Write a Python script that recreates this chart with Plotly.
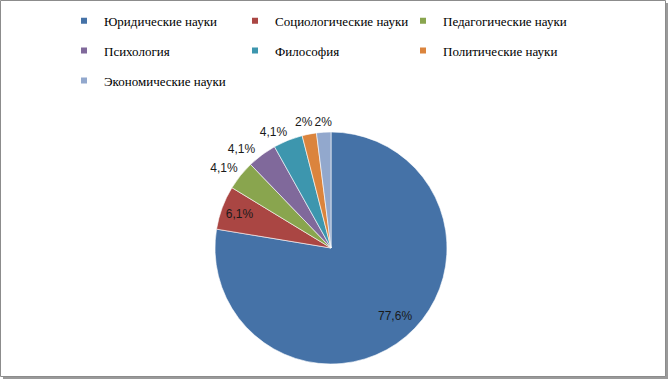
import plotly.graph_objects as go

categories = ["Юридические науки", "Социологические науки", "Педагогические науки",
              "Психология", "Философия", "Политические науки", "Экономические науки"]
values = [77.6, 6.1, 4.1, 4.1, 4.1, 2.0, 2.0]
value_labels = ["77,6%", "6,1%", "4,1%", "4,1%", "4,1%", "2%", "2%"]
colors = ["#4572A7", "#AA4643", "#89A54E", "#80699B", "#3D96AE", "#DB843D", "#92A8CD"]
inside_slices = [0, 1]
outside_slices = [2, 3, 4, 5, 6]
legend_columns = ["legend", "legend2", "legend3", "legend", "legend2", "legend3", "legend"]

# small pixel nudges (style only) for outside labels, to mimic the original label placement
label_nudge_px = {2: (1, -5), 3: (-3, -1), 4: (3, -2), 5: (7, -5), 6: (12, -3)}

W, H = 669, 380
NB = "\u00a0"
CX, CY, R = 331, 248, 116


def pie_domain(dx=0, dy=0):
    return dict(x=[(CX - R + dx) / W, (CX + R + dx) / W],
                y=[(H - (CY + R + dy)) / H, (H - (CY - R + dy)) / H])


main_text = [value_labels[i] if i in inside_slices else "" for i in range(len(values))]
main_text[0] = NB + "<br>" * 3 + NB * 16 + value_labels[0]

label_font = dict(family="Liberation Sans, Arial, sans-serif", size=12, color="#1a1a1a")

fig = go.Figure()

fig.add_trace(go.Pie(
    labels=categories, values=values, text=main_text, textinfo="text",
    textposition="inside", insidetextorientation="horizontal",
    sort=False, direction="clockwise", rotation=0,
    marker=dict(colors=colors, line=dict(color="white", width=0.6)),
    textfont=label_font, showlegend=False,
    hovertext=value_labels, hoverinfo="label+text", domain=pie_domain(),
))

# one transparent twin pie per outside label, so Plotly never shifts them or draws leader lines
for i in outside_slices:
    txt = [value_labels[j] if j == i else "" for j in range(len(values))]
    dx, dy = label_nudge_px.get(i, (0, 0))
    fig.add_trace(go.Pie(
        labels=categories, values=values, text=txt, textinfo="text",
        textposition="outside", sort=False, direction="clockwise", rotation=0,
        marker=dict(colors=["rgba(0,0,0,0)"] * len(values), line=dict(width=0)),
        textfont=label_font, showlegend=False, hoverinfo="skip", domain=pie_domain(dx, dy),
    ))

for i, (name, col, lg) in enumerate(zip(categories, colors, legend_columns)):
    fig.add_trace(go.Scatter(
        x=[None], y=[None], mode="markers", name=name,
        marker=dict(symbol="square", size=6, color=col),
        legend=lg, legendgroup=f"g{i}", showlegend=True,
    ))

legend_common = dict(
    orientation="v", yanchor="top", xanchor="left", y=0.985,
    font=dict(family="Liberation Serif, Times New Roman, serif", size=13, color="#000"),
    bgcolor="rgba(0,0,0,0)", borderwidth=0, tracegroupgap=10, itemwidth=30,
)

fig.update_layout(
    width=W, height=H,
    margin=dict(l=0, r=0, t=0, b=0),
    paper_bgcolor="white", plot_bgcolor="white",
    xaxis=dict(visible=False, range=[0, 1]),
    yaxis=dict(visible=False, range=[0, 1]),
    uniformtext=dict(minsize=12, mode="show"),
    legend=dict(x=64 / W, **legend_common),
    legend2=dict(x=235 / W, **legend_common),
    legend3=dict(x=403 / W, **legend_common),
    shapes=[
        dict(type="rect", xref="paper", yref="paper", x0=3 / W, x1=668 / W, y0=(H - 379) / H, y1=(H - 3) / H,
             fillcolor="#9a9a9a", line=dict(width=0), layer="below"),
        dict(type="rect", xref="paper", yref="paper", x0=0.5 / W, x1=665.5 / W, y0=(H - 376.5) / H, y1=(H - 0.5) / H,
             fillcolor="white", line=dict(color="#8c8c8c", width=1), layer="below"),
    ],
)

fig.write_html("out.html", config={"displayModeBar": False},
               post_script="document.body.style.margin='0';")
